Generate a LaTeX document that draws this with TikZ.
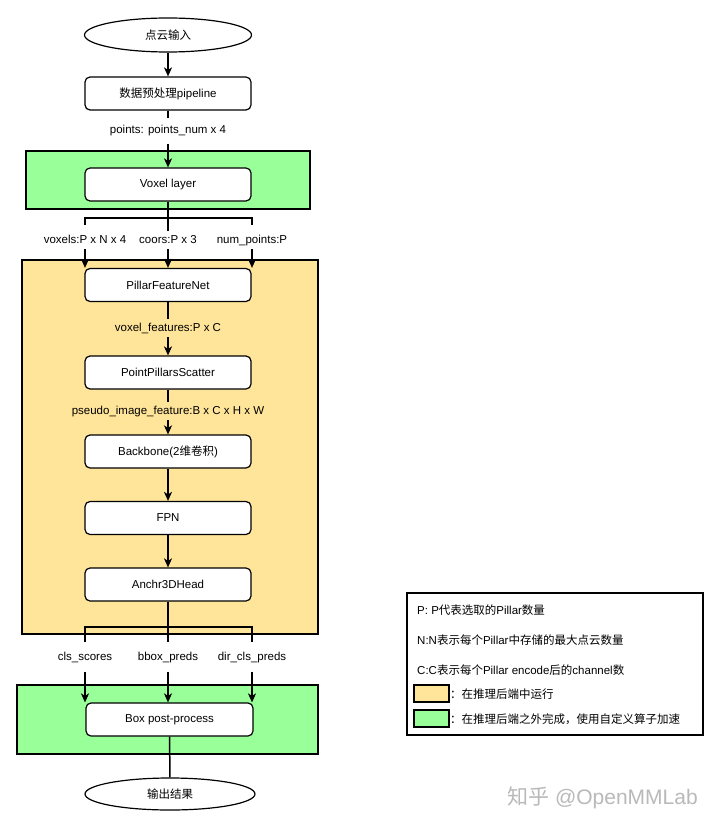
\documentclass[tikz,border=0pt]{standalone}
\usepackage{fontspec}
\setmainfont{Liberation Sans}
\newfontfamily\cjk{Noto Sans CJK SC}
\usetikzlibrary{shapes.geometric,arrows.meta}
\definecolor{ygold}{HTML}{FFE599}
\definecolor{lgreen}{HTML}{99FF99}
\definecolor{wmgray}{RGB}{185,185,185}
\begin{document}
\begin{tikzpicture}[x=1pt,y=-1pt,
  basefont/.style={font=\fontsize{11.5}{13}\selectfont},
  region/.style={draw=black,line width=1.4pt},
  proc/.style={basefont,draw=black,fill=white,line width=1.2pt,rounded corners=5pt,
    minimum width=166pt,minimum height=33pt,inner sep=0pt},
  term/.style={basefont,ellipse,draw=black,fill=white,line width=1.2pt,
    minimum width=167pt,minimum height=34pt,inner sep=0pt},
  lbl/.style={basefont,inner xsep=2pt,inner ysep=3.5pt,text height=8.5pt,text depth=2.5pt},
  ln/.style={line width=1.5pt},
  arr/.style={line width=1.5pt,-{Stealth[length=9pt,width=8pt,inset=2.5pt]}},
  legtext/.style={basefont,anchor=west,inner sep=0pt},
  swatch/.style={draw=black,line width=1.4pt}
]
\useasboundingbox (0,0) rectangle (720,829);
\fill[white] (0,0) rectangle (720,829);

% background regions
\draw[region,fill=lgreen] (26,151) rectangle (310,209);
\draw[region,fill=ygold] (22,260) rectangle (318,634);
\draw[region,fill=lgreen] (17,685) rectangle (318,754);

% main nodes
\node[term] (in) at (168,35) {{\cjk 点云输入}};
\node[proc] (pre) at (168,93.5) {{\cjk 数据预处理}pipeline};
\node[lbl,fill=white,inner ysep=7pt] (l1) at (168,131) {points: points\_num x 4};
\node[proc] (vox) at (168,184.5) {Voxel layer};

\coordinate (j1L) at (85,218);
\coordinate (j1R) at (252,218);
\coordinate (s1L) at (85,225);
\coordinate (s1R) at (252,225);
\node[lbl,fill=white] (lv) at (85,240) {voxels:P x N x 4};
\node[lbl,fill=white] (lc) at (168,240) {coors:P x 3};
\node[lbl,fill=white] (ln) at (252,240) {num\_points:P};

\node[proc] (pfn) at (168,285) {PillarFeatureNet};
\node[lbl] (lf) at (168,328) {voxel\_features:P x C};
\node[proc] (pps) at (168,372.5) {PointPillarsScatter};
\node[lbl] (lp) at (168,411) {pseudo\_image\_feature:B x C x H x W};
\node[proc] (bb) at (168,451.5) {Backbone(2{\cjk 维卷积})};
\node[proc] (fpn) at (168,518) {FPN};
\node[proc] (head) at (168,584.5) {Anchr3DHead};

\coordinate (j2L) at (85,627);
\coordinate (j2R) at (252,627);
\coordinate (s2L) at (85,642);
\coordinate (s2R) at (252,642);
\coordinate (s2C) at (168,642);
\node[lbl,inner ysep=9pt] (cls) at (85,657) {cls\_scores};
\node[lbl,inner ysep=9pt] (bbox) at (168,657) {bbox\_preds};
\node[lbl,inner ysep=9pt] (dir) at (252,657) {dir\_cls\_preds};

\node[proc,minimum width=167pt] (post) at (169.5,719.5) {Box post-process};
\node[term,minimum width=170pt,minimum height=32pt] (out) at (170,794) {{\cjk 输出结果}};

% connectors
\draw[arr] (in) -- (pre);
\draw[ln] (pre) -- (l1);
\draw[arr] (l1) -- (vox);
\draw[ln] (vox) -- (lc);
\draw[ln] (s1L) -- (j1L) -- (j1R) -- (s1R);
\draw[arr] (lv) -- (lv |- pfn.north);
\draw[arr] (lc) -- (pfn);
\draw[arr] (ln) -- (ln |- pfn.north);
\draw[ln] (pfn) -- (lf);
\draw[arr] (lf) -- (pps);
\draw[ln] (pps) -- (lp);
\draw[arr] (lp) -- (bb);
\draw[arr] (bb) -- (fpn);
\draw[arr] (fpn) -- (head);
\draw[ln] (head) -- (s2C);
\draw[ln] (s2L) -- (j2L) -- (j2R) -- (s2R);
\draw[arr] (cls) -- (cls |- post.north);
\draw[arr] (bbox) -- (bbox |- post.north);
\draw[arr] (dir) -- (dir |- post.north);
\draw[ln] (post) -- (out);

% legend
\draw[region,fill=white] (407,593) rectangle (703,735);
\node[legtext] (lgP) at (417,610) {P: P{\cjk 代表选取的}Pillar{\cjk 数量}};
\node[legtext] (lgN) at (417,640) {N:N{\cjk 表示每个}Pillar{\cjk 中存储的最大点云数量}};
\node[legtext] (lgC) at (417,670) {C:C{\cjk 表示每个}Pillar encode{\cjk 后的}channel{\cjk 数}};
\draw[swatch,fill=ygold] (414,685) rectangle (449,702);
\node[legtext] (lgY) at (450,694) {{\cjk ：在推理后端中运行}};
\draw[swatch,fill=lgreen] (414,710) rectangle (449,727);
\node[legtext] (lgG) at (450,719) {{\cjk ：在推理后端之外完成，使用自定义算子加速}};

% watermark
\node[anchor=west,inner sep=0pt,text=wmgray,font=\fontsize{21}{21}\selectfont] (wm) at (507,798) {{\cjk 知乎} @OpenMMLab};
\end{tikzpicture}
\end{document}
